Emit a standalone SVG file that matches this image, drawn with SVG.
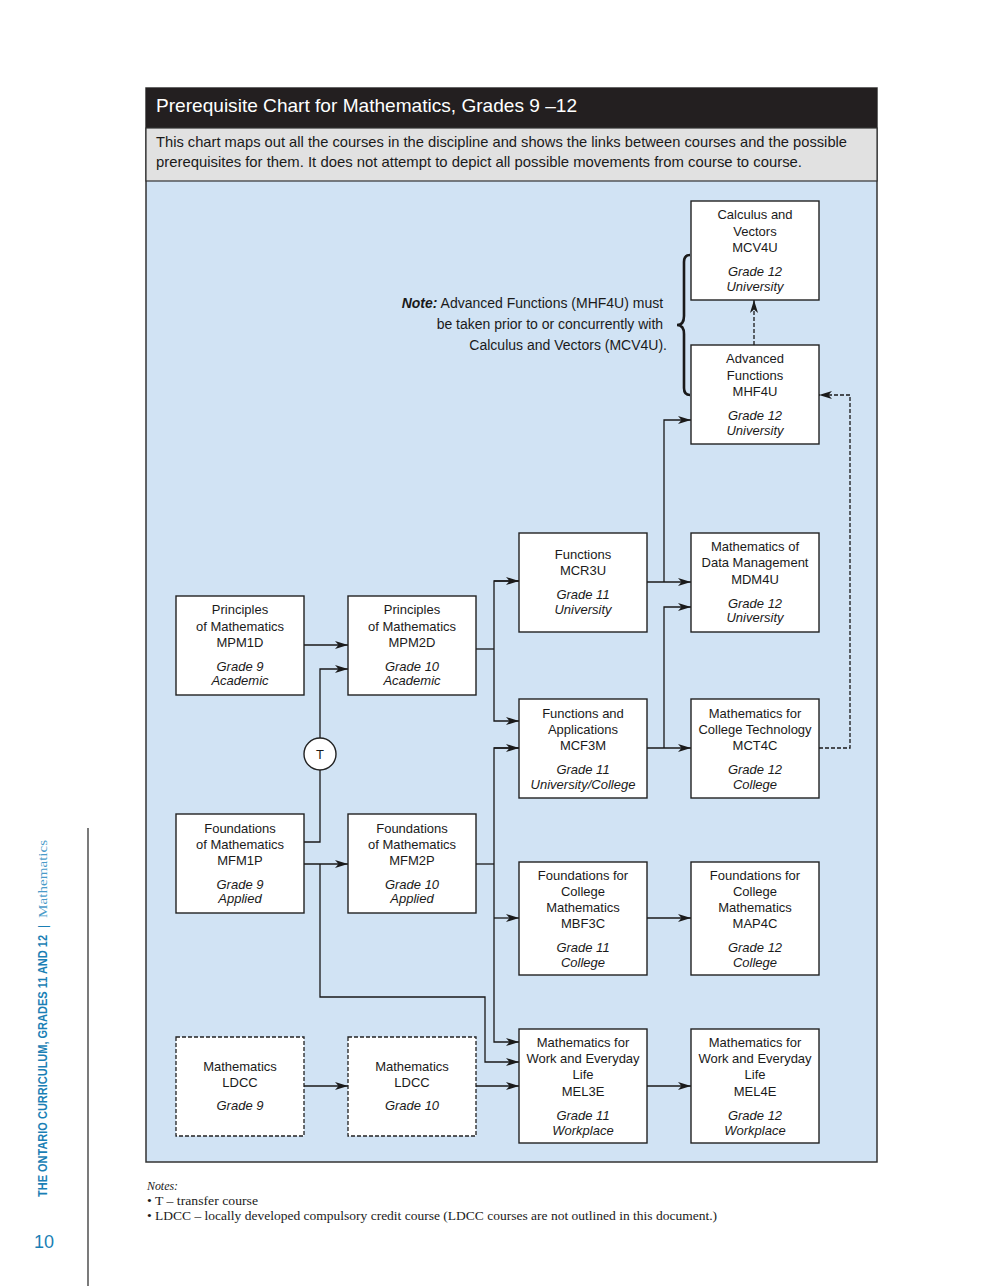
<svg xmlns="http://www.w3.org/2000/svg" width="994" height="1286" viewBox="0 0 994 1286">
<defs>
<marker id="ar" markerUnits="userSpaceOnUse" markerWidth="14" markerHeight="10" refX="13" refY="5" orient="auto">
<path d="M0,1 L13,5 L0,9 L3.5,5 z" fill="#1a1a1a"/>
</marker>
</defs>
<style>
.box{fill:#fff;stroke:#222;stroke-width:1.4}
.dbox{fill:#fff;stroke:#222;stroke-width:1.3;stroke-dasharray:4,2}
.t{font-family:"Liberation Sans",Arial,sans-serif;font-size:13px;fill:#1a1a1a;text-anchor:middle}
.i{font-style:italic}
.ln{fill:none;stroke:#1a1a1a;stroke-width:1.3}
.da{stroke-dasharray:4,2}
</style>
<rect width="994" height="1286" fill="#fff"/>
<!-- frame -->
<rect x="146" y="88" width="731" height="1074" fill="#d1e3f4" stroke="#333" stroke-width="1.5"/>
<rect x="146" y="88" width="731" height="40" fill="#231f20"/>
<rect x="146" y="128" width="731" height="53" fill="#e1e1e1" stroke="#333" stroke-width="1.2"/>
<text x="156" y="112" font-family="Liberation Sans,Arial,sans-serif" font-size="19" fill="#fff" textLength="421" lengthAdjust="spacingAndGlyphs">Prerequisite Chart for Mathematics, Grades 9 –12</text>
<text x="156" y="147" font-family="Liberation Sans,Arial,sans-serif" font-size="14.5" fill="#1a1a1a" textLength="691" lengthAdjust="spacingAndGlyphs">This chart maps out all the courses in the discipline and shows the links between courses and the possible</text>
<text x="156" y="167" font-family="Liberation Sans,Arial,sans-serif" font-size="14.5" fill="#1a1a1a" textLength="646" lengthAdjust="spacingAndGlyphs">prerequisites for them. It does not attempt to depict all possible movements from course to course.</text>

<!-- connectors -->
<g id="connectors">
<line class="ln" x1="304" y1="645" x2="348" y2="645" marker-end="url(#ar)"/>
<polyline class="ln" points="304,842 320,842 320,770"/>
<polyline class="ln" points="320,738 320,669 348,669" marker-end="url(#ar)"/>
<line class="ln" x1="304" y1="864" x2="348" y2="864" marker-end="url(#ar)"/>
<polyline class="ln" points="320,864 320,997 485,997 485,1062 519,1062" marker-end="url(#ar)"/>
<line class="ln" x1="304" y1="1086" x2="348" y2="1086" marker-end="url(#ar)"/>
<line class="ln" x1="476" y1="1086" x2="519" y2="1086" marker-end="url(#ar)"/>
<polyline class="ln" points="476,649 494,649"/>
<polyline class="ln" points="519,581 494,581 494,721 519,721" marker-end="url(#ar)"/>
<line class="ln" x1="494" y1="581" x2="519" y2="581" marker-end="url(#ar)"/>
<polyline class="ln" points="476,864 494,864"/>
<polyline class="ln" points="519,748 494,748 494,1042 519,1042" marker-end="url(#ar)"/>
<line class="ln" x1="494" y1="748" x2="519" y2="748" marker-end="url(#ar)"/>
<line class="ln" x1="494" y1="918" x2="519" y2="918" marker-end="url(#ar)"/>
<line class="ln" x1="647" y1="582" x2="691" y2="582" marker-end="url(#ar)"/>
<polyline class="ln" points="664,582 664,420 691,420" marker-end="url(#ar)"/>
<line class="ln" x1="647" y1="748" x2="691" y2="748" marker-end="url(#ar)"/>
<polyline class="ln" points="664,748 664,607 691,607" marker-end="url(#ar)"/>
<line class="ln" x1="647" y1="918" x2="691" y2="918" marker-end="url(#ar)"/>
<line class="ln" x1="647" y1="1086" x2="691" y2="1086" marker-end="url(#ar)"/>
<polyline class="ln da" points="819,748 850,748 850,395 819,395" marker-end="url(#ar)"/>
<line class="ln da" x1="754" y1="345" x2="754" y2="300" marker-end="url(#ar)"/>
</g>

<!-- T circle -->
<g id="transfer">
<circle cx="320" cy="754" r="16" fill="#fff" stroke="#222" stroke-width="1.4"/>
<text class="t" x="320" y="759" font-size="14">T</text>
</g>

<!-- brace + note -->
<g id="note">
<path d="M690,255 Q684,255 684,262 L684,316 Q684,325 677,325 Q684,325 684,334 L684,388 Q684,395 690,395" fill="none" stroke="#1a1a1a" stroke-width="2.6"/>
<text font-family="Liberation Sans,Arial,sans-serif" font-size="14" fill="#1a1a1a" text-anchor="end">
<tspan x="667" y="308"><tspan font-weight="bold" font-style="italic">Note:</tspan> Advanced Functions (MHF4U) must</tspan>
<tspan x="667" y="329">be taken prior to or concurrently with</tspan>
<tspan x="667" y="350">Calculus and Vectors (MCV4U).</tspan>
</text>
</g>

<g id="MCV4U">
<rect class="box" x="691" y="201" width="128" height="99"/>
<text class="t"><tspan x="755" y="219">Calculus and</tspan><tspan x="755" y="236">Vectors</tspan><tspan x="755" y="252">MCV4U</tspan><tspan class="i" x="755" y="276">Grade 12</tspan><tspan class="i" x="755" y="291">University</tspan></text>
</g>
<g id="MHF4U">
<rect class="box" x="691" y="345" width="128" height="99"/>
<text class="t"><tspan x="755" y="363">Advanced</tspan><tspan x="755" y="380">Functions</tspan><tspan x="755" y="396">MHF4U</tspan><tspan class="i" x="755" y="420">Grade 12</tspan><tspan class="i" x="755" y="435">University</tspan></text>
</g>
<g id="MCR3U">
<rect class="box" x="519" y="533" width="128" height="99"/>
<text class="t"><tspan x="583" y="559">Functions</tspan><tspan x="583" y="575">MCR3U</tspan><tspan class="i" x="583" y="599">Grade 11</tspan><tspan class="i" x="583" y="614">University</tspan></text>
</g>
<g id="MDM4U">
<rect class="box" x="691" y="533" width="128" height="99"/>
<text class="t"><tspan x="755" y="551">Mathematics of</tspan><tspan x="755" y="567">Data Management</tspan><tspan x="755" y="584">MDM4U</tspan><tspan class="i" x="755" y="608">Grade 12</tspan><tspan class="i" x="755" y="622">University</tspan></text>
</g>
<g id="MPM1D">
<rect class="box" x="176" y="596" width="128" height="99"/>
<text class="t"><tspan x="240" y="614">Principles</tspan><tspan x="240" y="631">of Mathematics</tspan><tspan x="240" y="647">MPM1D</tspan><tspan class="i" x="240" y="671">Grade 9</tspan><tspan class="i" x="240" y="685">Academic</tspan></text>
</g>
<g id="MPM2D">
<rect class="box" x="348" y="596" width="128" height="99"/>
<text class="t"><tspan x="412" y="614">Principles</tspan><tspan x="412" y="631">of Mathematics</tspan><tspan x="412" y="647">MPM2D</tspan><tspan class="i" x="412" y="671">Grade 10</tspan><tspan class="i" x="412" y="685">Academic</tspan></text>
</g>
<g id="MCF3M">
<rect class="box" x="519" y="699" width="128" height="99"/>
<text class="t"><tspan x="583" y="718">Functions and</tspan><tspan x="583" y="734">Applications</tspan><tspan x="583" y="750">MCF3M</tspan><tspan class="i" x="583" y="774">Grade 11</tspan><tspan class="i" x="583" y="789">University/College</tspan></text>
</g>
<g id="MCT4C">
<rect class="box" x="691" y="699" width="128" height="99"/>
<text class="t"><tspan x="755" y="718">Mathematics for</tspan><tspan x="755" y="734">College Technology</tspan><tspan x="755" y="750">MCT4C</tspan><tspan class="i" x="755" y="774">Grade 12</tspan><tspan class="i" x="755" y="789">College</tspan></text>
</g>
<g id="MFM1P">
<rect class="box" x="176" y="814" width="128" height="99"/>
<text class="t"><tspan x="240" y="833">Foundations</tspan><tspan x="240" y="849">of Mathematics</tspan><tspan x="240" y="865">MFM1P</tspan><tspan class="i" x="240" y="889">Grade 9</tspan><tspan class="i" x="240" y="903">Applied</tspan></text>
</g>
<g id="MFM2P">
<rect class="box" x="348" y="814" width="128" height="99"/>
<text class="t"><tspan x="412" y="833">Foundations</tspan><tspan x="412" y="849">of Mathematics</tspan><tspan x="412" y="865">MFM2P</tspan><tspan class="i" x="412" y="889">Grade 10</tspan><tspan class="i" x="412" y="903">Applied</tspan></text>
</g>
<g id="MBF3C">
<rect class="box" x="519" y="862" width="128" height="113"/>
<text class="t"><tspan x="583" y="880">Foundations for</tspan><tspan x="583" y="896">College</tspan><tspan x="583" y="912">Mathematics</tspan><tspan x="583" y="928">MBF3C</tspan><tspan class="i" x="583" y="952">Grade 11</tspan><tspan class="i" x="583" y="967">College</tspan></text>
</g>
<g id="MAP4C">
<rect class="box" x="691" y="862" width="128" height="113"/>
<text class="t"><tspan x="755" y="880">Foundations for</tspan><tspan x="755" y="896">College</tspan><tspan x="755" y="912">Mathematics</tspan><tspan x="755" y="928">MAP4C</tspan><tspan class="i" x="755" y="952">Grade 12</tspan><tspan class="i" x="755" y="967">College</tspan></text>
</g>
<g id="MEL3E">
<rect class="box" x="519" y="1029" width="128" height="114"/>
<text class="t"><tspan x="583" y="1047">Mathematics for</tspan><tspan x="583" y="1063">Work and Everyday</tspan><tspan x="583" y="1079">Life</tspan><tspan x="583" y="1096">MEL3E</tspan><tspan class="i" x="583" y="1120">Grade 11</tspan><tspan class="i" x="583" y="1135">Workplace</tspan></text>
</g>
<g id="MEL4E">
<rect class="box" x="691" y="1029" width="128" height="114"/>
<text class="t"><tspan x="755" y="1047">Mathematics for</tspan><tspan x="755" y="1063">Work and Everyday</tspan><tspan x="755" y="1079">Life</tspan><tspan x="755" y="1096">MEL4E</tspan><tspan class="i" x="755" y="1120">Grade 12</tspan><tspan class="i" x="755" y="1135">Workplace</tspan></text>
</g>
<g id="LDCC9">
<rect class="dbox" x="176" y="1037" width="128" height="99"/>
<text class="t"><tspan x="240" y="1071">Mathematics</tspan><tspan x="240" y="1087">LDCC</tspan><tspan class="i" x="240" y="1110">Grade 9</tspan></text>
</g>
<g id="LDCC10">
<rect class="dbox" x="348" y="1037" width="128" height="99"/>
<text class="t"><tspan x="412" y="1071">Mathematics</tspan><tspan x="412" y="1087">LDCC</tspan><tspan class="i" x="412" y="1110">Grade 10</tspan></text>
</g>

<!-- footer notes -->
<g id="notes" font-family="Liberation Serif,Times New Roman,serif" font-size="13" fill="#1a1a1a">
<text x="147" y="1190" font-style="italic" textLength="31" lengthAdjust="spacingAndGlyphs">Notes:</text>
<text x="147" y="1205" textLength="111" lengthAdjust="spacingAndGlyphs">• T – transfer course</text>
<text x="147" y="1220" textLength="570" lengthAdjust="spacingAndGlyphs">• LDCC – locally developed compulsory credit course (LDCC courses are not outlined in this document.)</text>
</g>

<!-- side -->
<g id="side">
<line x1="88" y1="828" x2="88" y2="1286" stroke="#222" stroke-width="1.2"/>
<text transform="translate(47,1197) rotate(-90)" font-family="Liberation Sans,Arial,sans-serif" font-size="12" fill="#1a7fb5"><tspan font-weight="bold" textLength="262" lengthAdjust="spacingAndGlyphs">THE ONTARIO CURRICULUM, GRADES 11 AND 12</tspan><tspan dx="7">|</tspan><tspan dx="7" fill="#4a9bc9" font-family="Liberation Serif,serif" font-size="13" textLength="78" lengthAdjust="spacingAndGlyphs">Mathematics</tspan></text>
<text x="44" y="1248" font-family="Liberation Sans,Arial,sans-serif" font-size="18" fill="#1a7fb5" text-anchor="middle">10</text>
</g>
</svg>
